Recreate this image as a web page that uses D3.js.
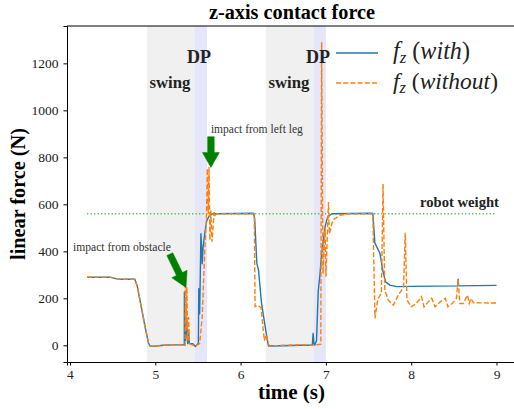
<!DOCTYPE html>
<html><head><meta charset="utf-8">
<script src="https://cdn.jsdelivr.net/npm/d3@7"></script>
<style>body{margin:0;background:#fff}svg{display:block}text{font-family:"Liberation Serif","Times New Roman",serif}</style>
</head><body>
<svg id="c" width="514" height="409"></svg>
<script>
// ---- data ----
const xTicks = [4,5,6,7,8,9];
const yTicks = [0,200,400,600,800,1000,1200];
const timeWith = [4.2,4.3,4.47,4.55,4.6,4.76,4.79,4.82,4.88,4.92,4.94,5.0,5.1,5.2,5.33,5.34,5.341,5.35,5.355,5.367,5.38,5.39,5.40,5.44,5.47,5.5,5.505,5.51,5.52,5.535,5.55,5.56,5.57,5.585,5.605,5.636,5.676,6.15,6.165,6.19,6.21,6.245,6.3,6.325,6.33,6.5,6.7,6.84,6.85,6.86,6.87,6.89,6.91,6.93,6.95,6.99,7.02,7.07,7.55,7.574,7.633,7.67,7.70,7.75,7.83,8.0,8.549,8.55,8.555,9.0];
const forceWith = [290,290,290,283,281,281,250,193,79,10,-4,-3,0,2,2,2,227,30,21,120,7,63,7,7,-5,7,7,241,134,475,347,418,447,489,532,553,560,562,540,350,320,180,52,0,-3,-2,0,0,51,5,1,20,230,300,391,504,546,560,562,435,392,313,270,256,250,251,253,281,253,255];
const timeWithout = [4.2,4.3,4.47,4.55,4.6,4.76,4.79,4.82,4.88,4.92,4.94,5.0,5.1,5.2,5.34,5.35,5.352,5.36,5.37,5.38,5.39,5.40,5.44,5.48,5.52,5.55,5.58,5.6,5.61,5.62,5.63,5.64,5.65,5.665,5.69,5.70,5.72,6.16,6.17,6.2,6.24,6.265,6.28,6.3,6.32,6.34,6.5,6.7,6.85,6.94,6.95,6.965,6.99,7.0,7.03,7.04,7.08,7.16,7.26,7.55,7.575,7.61,7.65,7.67,7.69,7.73,7.79,7.85,7.91,7.93,7.95,8.0,8.06,8.12,8.15,8.2,8.24,8.28,8.34,8.40,8.43,8.48,8.53,8.55,8.57,8.61,8.66,8.68,8.70,8.73,9.0];
const forceWithout = [290,290,290,283,281,281,250,193,79,10,-4,-3,0,2,2,0,270,63,248,21,120,7,0,0,7,120,404,546,752,560,760,447,574,441,567,553,560,560,165,170,160,65,20,45,10,-3,0,2,0,5,1290,305,504,292,610,475,532,553,560,560,115,200,221,686,235,193,171,214,249,479,193,164,178,207,164,185,200,164,185,200,164,178,200,280,178,178,214,178,200,181,180];
const robotWeight = 560;
const swingPhases = [[4.902,5.465],[6.297,6.86]];
const dpPhases = [[5.465,5.606],[6.86,7.0]];
const seriesNames = ["with","without"];

// ---- chart ----
const svg = d3.select("#c");
const L=67, R=517, T=26, B=362;
const x = d3.scaleLinear().domain([3.965,9.24]).range([L,R]);
const y = d3.scaleLinear().domain([-71,1359]).range([B,T]);

// scale a text element's font-size so its rendered width matches a target width
function fit(sel, w){
  const n=sel.node(); const len=n.getComputedTextLength();
  const fs=parseFloat(sel.attr("font-size"));
  if(len>0) sel.attr("font-size",(fs*w/len).toFixed(2));
  return sel;
}

svg.append("clipPath").attr("id","clip").append("rect").attr("x",L).attr("y",T).attr("width",R-L).attr("height",B-T);
const g = svg.append("g").attr("clip-path","url(#clip)");

swingPhases.forEach(p=>g.append("rect").attr("x",x(p[0])).attr("y",T).attr("width",x(p[1])-x(p[0])).attr("height",B-T).attr("fill","#f0f0f0"));
dpPhases.forEach(p=>g.append("rect").attr("x",x(p[0])).attr("y",T).attr("width",x(p[1])-x(p[0])).attr("height",B-T).attr("fill","#e6e6fa"));

// robot weight
g.append("line").attr("x1",x(4.2)).attr("x2",x(9.0)).attr("y1",y(robotWeight)).attr("y2",y(robotWeight))
 .attr("stroke","#2ca02c").attr("stroke-opacity",0.75).attr("stroke-width",1.3).attr("stroke-dasharray","1.3,2.2");

const line = d3.line().x(d=>x(d[0])).y(d=>y(d[1]));
g.append("path").datum(d3.zip(timeWith,forceWith)).attr("d",line).attr("fill","none").attr("stroke","#1f77b4").attr("stroke-width",1.4).attr("stroke-linejoin","round");
g.append("path").datum(d3.zip(timeWithout,forceWithout)).attr("d",line).attr("fill","none").attr("stroke","#ff7f0e").attr("stroke-width",1.4).attr("stroke-dasharray","5,2.2");

// phase labels
swingPhases.forEach(p=>fit(svg.append("text").attr("x",x((p[0]+p[1])/2)-1).attr("y",y(1095)).attr("text-anchor","middle").attr("font-weight","bold").attr("font-size",14).attr("fill","#222").text("swing"),41));
dpPhases.forEach(p=>fit(svg.append("text").attr("x",x((p[0]+p[1])/2)-2).attr("y",y(1200)).attr("text-anchor","middle").attr("font-weight","bold").attr("font-size",15).attr("fill","#222").text("DP"),24));

fit(svg.append("text").attr("x",499).attr("y",y(robotWeight)-7).attr("text-anchor","end").attr("font-weight","bold").attr("font-size",12).attr("fill","#222").text("robot weight"),79);

// annotations
function arrow(t0,v0,t1,v1){
  const x0=x(t0),y0=y(v0),x1=x(t1),y1=y(v1);
  const dx=x1-x0,dy=y1-y0,len=Math.hypot(dx,dy),ux=dx/len,uy=dy/len,nx=-uy,ny=ux;
  const sw=3.3,hw=8.5,hl=15;
  const bx=x1-ux*hl,by=y1-uy*hl;
  const pts=[[x0+nx*sw,y0+ny*sw],[bx+nx*sw,by+ny*sw],[bx+nx*hw,by+ny*hw],[x1,y1],[bx-nx*hw,by-ny*hw],[bx-nx*sw,by-ny*sw],[x0-nx*sw,y0-ny*sw]];
  svg.append("polygon").attr("points",pts.map(p=>p.join(",")).join(" ")).attr("fill","#008000").attr("stroke","#008000").attr("stroke-width",0.5);
}
arrow(5.17,388,5.36,246);
arrow(5.652,888,5.652,757);
fit(svg.append("text").attr("x",73).attr("y",y(400)).attr("font-size",10.5).attr("fill","#333").text("impact from obstacle"),98);
fit(svg.append("text").attr("x",x(5.652)).attr("y",y(905)).attr("font-size",10.5).attr("fill","#333").text("impact from left leg"),92);

// axes
const xa = svg.append("g").attr("transform",`translate(0,${B})`).call(d3.axisBottom(x).tickValues(xTicks).tickSize(3.5).tickPadding(4).tickFormat(d3.format("d")));
const ya = svg.append("g").attr("transform",`translate(${L},0)`).call(d3.axisLeft(y).tickValues(yTicks).tickSize(3.5).tickPadding(5).tickFormat(d3.format("d")));
[xa,ya].forEach(a=>{a.selectAll("text").attr("font-size",13.5).attr("fill","#222");a.select(".domain").attr("stroke","#000").attr("stroke-width",1);});
svg.append("line").attr("x1",L).attr("x2",R).attr("y1",T).attr("y2",T).attr("stroke","#000");

fit(svg.append("text").attr("x",292).attr("y",18.5).attr("text-anchor","middle").attr("font-weight","bold").attr("font-size",16).text("z-axis contact force"),166);
fit(svg.append("text").attr("x",291.5).attr("y",399).attr("text-anchor","middle").attr("font-weight","bold").attr("font-size",18).text("time (s)"),67);
fit(svg.append("text").attr("transform",`translate(25,194) rotate(-90)`).attr("text-anchor","middle").attr("font-weight","bold").attr("font-size",18).text("linear force (N)"),132);

// legend
const leg = [{c:"#1f77b4",d:null,n:seriesNames[0],yy:53,w:77},{c:"#ff7f0e",d:"5,2.2",n:seriesNames[1],yy:83,w:105}];
leg.forEach(l=>{
  svg.append("line").attr("x1",336).attr("x2",378).attr("y1",l.yy).attr("y2",l.yy).attr("stroke",l.c).attr("stroke-width",1.4).attr("stroke-dasharray",l.d);
  const t=svg.append("text").attr("x",393).attr("y",l.yy+6).attr("font-size",19).attr("font-style","italic").attr("fill","#222");
  t.append("tspan").text("f");
  t.append("tspan").attr("dy",4).attr("font-size","0.7em").text("z");
  t.append("tspan").attr("dy",-4).attr("font-style","normal").text(" (");
  t.append("tspan").text(l.n);
  t.append("tspan").attr("font-style","normal").text(")");
  const n=t.node(); const bb=n.getBBox();
  t.attr("font-size",(19*l.w/bb.width).toFixed(2));
});
</script>
</body></html>
